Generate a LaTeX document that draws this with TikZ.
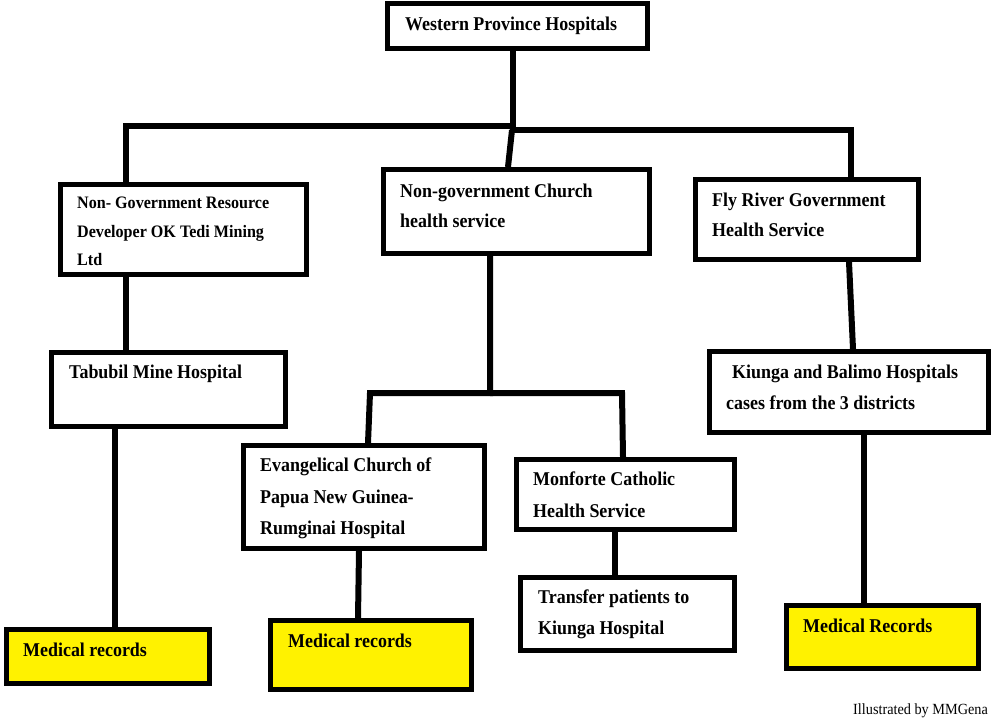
\documentclass[tikz,border=0pt]{standalone}
\usepackage{fontspec}
\setmainfont[FakeStretch=0.92]{Liberation Serif}
\begin{document}
\begin{tikzpicture}[x=1pt,y=-1pt,
  box/.style={draw=black, line width=5pt, fill=white, rectangle, inner sep=0pt, anchor=center},
  ybox/.style={box, fill=yellow},
  conn/.style={draw=black, line width=6pt, line join=miter},
  txt/.style={anchor=base west, inner sep=0pt, font=\fontsize{19.5}{19.5}\selectfont\bfseries},
  txts/.style={txt, font=\fontsize{17.5}{17.5}\selectfont\bfseries},
  small/.style={anchor=base west, inner sep=0pt, font=\fontsize{15.5}{15.5}\selectfont}]
\useasboundingbox (0,0) rectangle (992,721);
% boxes
\node[box, minimum width=260pt, minimum height=45pt] (top) at (517.5,26) {};
\node[box, minimum width=246pt, minimum height=90pt] (ngr) at (183.5,229.5) {};
\node[box, minimum width=266pt, minimum height=84pt] (church) at (516.5,211.5) {};
\node[box, minimum width=223pt, minimum height=80pt] (fly) at (807,219.5) {};
\node[box, minimum width=234pt, minimum height=74pt] (tab) at (168.5,389.5) {};
\node[box, minimum width=279pt, minimum height=81pt] (kiu) at (849,392) {};
\node[box, minimum width=241pt, minimum height=103pt] (evg) at (364,497) {};
\node[box, minimum width=218pt, minimum height=70pt] (mon) at (625.5,494.5) {};
\node[box, minimum width=214pt, minimum height=73pt] (trf) at (627.5,614) {};
\node[ybox, minimum width=203pt, minimum height=54pt] (med1) at (108,656.5) {};
\node[ybox, minimum width=201pt, minimum height=69pt] (med2) at (371,655) {};
\node[ybox, minimum width=192pt, minimum height=63pt] (med3) at (882.5,637) {};
% junction coordinates
\coordinate (j0) at (513,126);
\coordinate (j0b) at (513,130);
\coordinate (jl) at (126,126);
\coordinate (jr) at (851,130);
\coordinate (jc) at (508,0);
\coordinate (jm) at (490,393);
\coordinate (jml) at (370,393);
\coordinate (jmr) at (622,393);
% connectors
\draw[conn] (top.south -| j0) -- (j0);
\draw[conn] (ngr.north -| jl) -- (jl) -- (j0);
\draw[conn] (j0) -- (j0b) -- (jr) -- (jr |- fly.north);
\draw[conn] (512,130) -- (jc |- church.north);
\draw[conn] (ngr.south -| jl) -- (tab.north -| jl);
\coordinate (tb) at (115,0);
\draw[conn] (tab.south -| tb) -- (med1.north -| tb);
\draw[conn] (church.south -| jm) -- (jm) -- (jml) -- (368,0 |- evg.north);
\draw[conn] (jm) -- (jmr) -- (623,0 |- mon.north);
\coordinate (eb) at (359,0);
\draw[conn] (evg.south -| eb) -- (358,0 |- med2.north);
\coordinate (mb) at (615,0);
\draw[conn] (mon.south -| mb) -- (trf.north -| mb);
\coordinate (fb) at (849,0);
\draw[conn] (fly.south -| fb) -- (853,0 |- kiu.north);
\coordinate (kb) at (864,0);
\draw[conn] (kiu.south -| kb) -- (med3.north -| kb);
% texts
\node[txt] (t1) at (405,30) {Western Province Hospitals};
\node[txts] (t2a) at (77,208.5) {Non- Government Resource};
\node[txts] (t2b) at (77,237.5) {Developer OK Tedi Mining};
\node[txts] (t2c) at (77,265.5) {Ltd};
\node[txt] (t3a) at (400,197.5) {Non-government Church};
\node[txt] (t3b) at (400,227.5) {health service};
\node[txt] (t4a) at (712,206.5) {Fly River Government};
\node[txt] (t4b) at (712,236.5) {Health Service};
\node[txt] (t5) at (69,378.5) {Tabubil Mine Hospital};
\node[txt] (t6a) at (732,378.5) {Kiunga and Balimo Hospitals};
\node[txt] (t6b) at (726,409.5) {cases from the 3 districts};
\node[txt] (t7a) at (260,471.5) {Evangelical Church of};
\node[txt] (t7b) at (260,503.5) {Papua New Guinea-};
\node[txt] (t7c) at (260,534.5) {Rumginai Hospital};
\node[txt] (t8a) at (533,485.5) {Monforte Catholic};
\node[txt] (t8b) at (533,517.5) {Health Service};
\node[txt] (t9a) at (538,603.5) {Transfer patients to};
\node[txt] (t9b) at (538,634.5) {Kiunga Hospital};
\node[txt] (t10) at (23,656.5) {Medical records};
\node[txt] (t11) at (288,647.5) {Medical records};
\node[txt] (t12) at (803,632.5) {Medical Records};
\node[small] (ill) at (853,714) {Illustrated by MMGena};
\end{tikzpicture}
\end{document}
